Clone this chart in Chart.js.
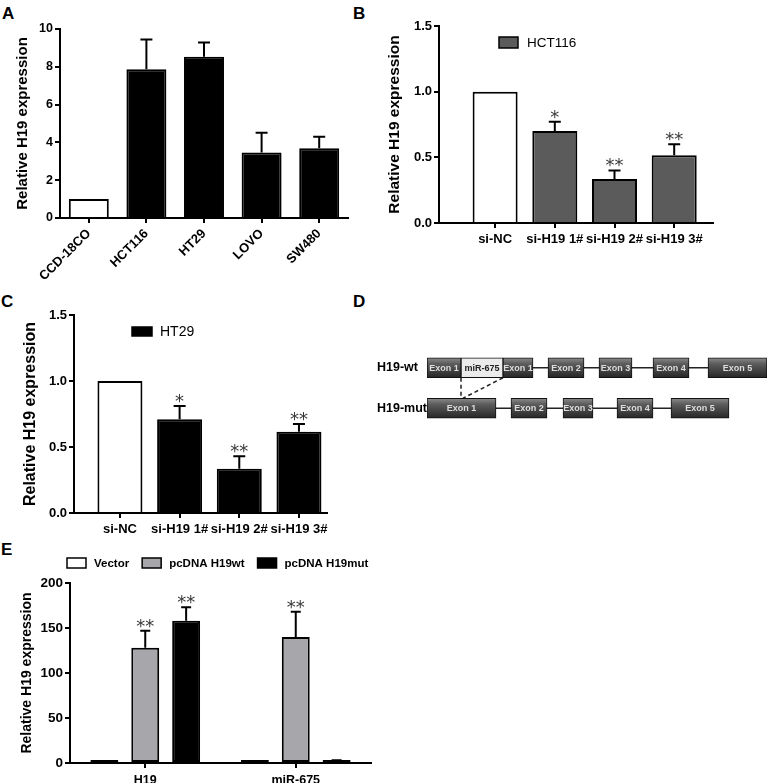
<!DOCTYPE html>
<html>
<head>
<meta charset="utf-8">
<script src="https://cdn.jsdelivr.net/npm/chart.js@4.4.0/dist/chart.umd.min.js"></script>
<style>
    html, body { margin: 0; padding: 0; background: #fff; }
    body { width: 767px; height: 783px; position: relative; overflow: hidden; }
    canvas { position: absolute; }
    .tag { position: absolute; font: bold 17px/17px "Liberation Sans", Arial, sans-serif; color: #000; }
</style>
</head>
<body>
<div class="tag" style="left:2px;top:5px">A</div>
<div class="tag" style="left:353px;top:5px">B</div>
<div class="tag" style="left:1px;top:293px">C</div>
<div class="tag" style="left:353px;top:293px">D</div>
<div class="tag" style="left:1px;top:541px">E</div>

<canvas id="chartA" width="380" height="290" style="left:0;top:0"></canvas>
<canvas id="chartB" width="387" height="290" style="left:380px;top:0"></canvas>
<canvas id="chartC" width="380" height="280" style="left:0;top:280px"></canvas>
<canvas id="chartD" width="390" height="100" style="left:377px;top:340px"></canvas>
<canvas id="chartE" width="380" height="250" style="left:0;top:540px"></canvas>

<script>
// =======================
// Data
// =======================
// A - cell lines
const cellLines = ["CCD-18CO", "HCT116", "HT29", "LOVO", "SW480"];
const cellExpr = [1, 7.87, 8.53, 3.47, 3.69];
const cellErr = [0, 1.58, 0.75, 1.04, 0.61];
const ticksA = [0, 2, 4, 6, 8, 10];

// B / C - siRNA knockdown
const siLabels = ["si-NC", "si-H19 1#", "si-H19 2#", "si-H19 3#"];
const hct116Expr = [1, 0.70, 0.335, 0.515];
const hct116Err = [0, 0.07, 0.065, 0.085];
const hct116Stars = ["", "*", "**", "**"];
const ht29Expr = [1, 0.71, 0.335, 0.615];
const ht29Err = [0, 0.10, 0.095, 0.06];
const ht29Stars = ["", "*", "**", "**"];
const ticksBC = [0, 0.5, 1.0, 1.5];

// D - constructs (diagram units)
const constructs = ["H19-wt", "H19-mut"];
const wtExons = [[0, 34], [34, 76], [76, 106], [121, 157], [172, 205], [226, 262], [281, 340]];
const wtNames = ["Exon 1", "miR-675", "Exon 1", "Exon 2", "Exon 3", "Exon 4", "Exon 5"];
const mutExons = [[0, 69], [84, 120], [136, 166], [190, 226], [244, 302]];
const mutNames = ["Exon 1", "Exon 2", "Exon 3", "Exon 4", "Exon 5"];

// E - overexpression
const targets = ["H19", "miR-675"];
const vectorExpr = [1, 1];
const vectorErr = [0, 0];
const h19wtExpr = [128, 140];
const h19wtErr = [19, 28];
const h19wtStars = ["**", "**"];
const h19mutExpr = [158, 2];
const h19mutErr = [15, 1];
const h19mutStars = ["**", ""];
const ticksE = [0, 50, 100, 150, 200];

// =======================
// Helpers / plugins
// =======================
const FONT = '"Liberation Sans", Arial, sans-serif';
const YTITLE = "Relative H19 expression";

function valueAt(ds, i) {
    const d = ds.data[i];
    return (d !== null && typeof d === "object") ? d.y : d;
}

const errorBars = {
    id: "errorBars",
    afterDatasetsDraw(chart, args, opts) {
        const ctx = chart.ctx;
        const y = chart.scales.y;
        ctx.save();
        ctx.strokeStyle = "#000";
        ctx.lineWidth = 2;
        chart.data.datasets.forEach((ds, di) => {
            if (!ds.errors) return;
            chart.getDatasetMeta(di).data.forEach((bar, i) => {
                const e = ds.errors[i];
                if (!e) return;
                const top = y.getPixelForValue(valueAt(ds, i) + e);
                ctx.beginPath();
                ctx.moveTo(bar.x, bar.y);
                ctx.lineTo(bar.x, top);
                ctx.moveTo(bar.x - opts.cap, top);
                ctx.lineTo(bar.x + opts.cap, top);
                ctx.stroke();
            });
        });
        ctx.restore();
    }
};

// significance asterisks above the error bars
const starMarks = {
    id: "starMarks",
    afterDatasetsDraw(chart, args, opts) {
        const ctx = chart.ctx;
        const y = chart.scales.y;
        ctx.save();
        ctx.font = "18px 'DejaVu Sans', sans-serif";
        ctx.fillStyle = "#3a3a3a";
        ctx.textAlign = "center";
        ctx.textBaseline = "alphabetic";
        chart.data.datasets.forEach((ds, di) => {
            if (!ds.stars) return;
            chart.getDatasetMeta(di).data.forEach((bar, i) => {
                const s = ds.stars[i];
                if (!s) return;
                const e = ds.errors ? ds.errors[i] : 0;
                const top = y.getPixelForValue(valueAt(ds, i) + e);
                ctx.fillText(s, bar.x, top + 1);
            });
        });
        ctx.restore();
    }
};

// small box legend drawn where GraphPad put it
const boxLegend = {
    id: "boxLegend",
    afterDraw(chart, args, opts) {
        const ctx = chart.ctx;
        ctx.save();
        ctx.font = opts.font;
        ctx.textBaseline = "middle";
        let x = opts.x;
        chart.data.datasets.forEach(ds => {
            if (!ds.label) return;
            const fill = ds.legendFill || ds.backgroundColor;
            ctx.fillStyle = fill;
            ctx.fillRect(x, opts.y, opts.boxW, opts.boxH);
            ctx.strokeStyle = "#000";
            ctx.lineWidth = 1.5;
            ctx.strokeRect(x, opts.y, opts.boxW, opts.boxH);
            ctx.fillStyle = "#000";
            const tx = x + opts.boxW + opts.textGap;
            ctx.fillText(ds.label, tx, opts.y + opts.boxH / 2 + 0.5);
            x = tx + ctx.measureText(ds.label).width + opts.itemGap;
        });
        ctx.restore();
    }
};

function yAxis(ticks, width, tickSize, titleSize, titlePad, fmt) {
    return {
        min: ticks[0],
        max: ticks[ticks.length - 1],
        afterBuildTicks: s => { s.ticks = ticks.map(v => ({ value: v })); },
        afterFit: s => { s.width = width; },
        border: { display: true, color: "#000", width: 2 },
        grid: { drawOnChartArea: false, tickLength: 5, color: "#000", lineWidth: 2 },
        ticks: { color: "#000", padding: 2, font: { family: FONT, weight: "bold", size: tickSize }, callback: fmt },
        title: { display: true, text: YTITLE, color: "#000", font: { family: FONT, weight: "bold", size: titleSize }, padding: { top: titlePad, bottom: 0 } }
    };
}

function xCategory(height, size, pad, rot) {
    return {
        afterFit: s => { s.height = height; },
        border: { display: true, color: "#000", width: 2 },
        grid: { drawOnChartArea: false, offset: false, tickLength: 5, color: "#000", lineWidth: 2 },
        ticks: { color: "#000", autoSkip: false, padding: pad, maxRotation: rot, minRotation: rot, font: { family: FONT, weight: "bold", size: size } }
    };
}

function xLinear(labels, range, height, size, pad) {
    return {
        type: "linear",
        min: range[0],
        max: range[1],
        offset: false,
        afterBuildTicks: s => { s.ticks = labels.map((_, i) => ({ value: i })); },
        afterFit: s => { s.height = height; },
        border: { display: true, color: "#000", width: 2 },
        grid: { drawOnChartArea: false, offset: false, tickLength: 5, color: "#000", lineWidth: 2 },
        ticks: { color: "#000", autoSkip: false, padding: pad, maxRotation: 0, font: { family: FONT, weight: "bold", size: size },
                 callback: v => labels[v] }
    };
}

const basePlugins = { legend: { display: false }, tooltip: { enabled: false } };

// =======================
// A
// =======================
new Chart(document.getElementById("chartA"), {
    type: "bar",
    data: {
        labels: cellLines,
        datasets: [{
            data: cellExpr,
            errors: cellErr,
            backgroundColor: cellLines.map((_, i) => i === 0 ? "#fff" : "#000"),
            borderColor: "#000",
            borderWidth: 2,
            categoryPercentage: 1,
            barPercentage: 0.694
        }]
    },
    options: {
        responsive: false,
        animation: false,
        layout: { padding: { left: 0, top: 29, right: 32, bottom: 0 } },
        scales: {
            x: xCategory(72, 13, 3, 45),
            y: yAxis(ticksA, 60, 12.5, 15, 14, v => v)
        },
        plugins: Object.assign({ errorBars: { cap: 6 } }, basePlugins)
    },
    plugins: [errorBars]
});

// =======================
// B and C
// =======================
function knockdownChart(id, label, fill, expr, err, stars, range, area, legend) {
    new Chart(document.getElementById(id), {
        type: "bar",
        data: {
            datasets: [{
                label: label,
                legendFill: fill,
                data: expr.map((v, i) => ({ x: i, y: v })),
                errors: err,
                stars: stars,
                backgroundColor: expr.map((_, i) => i === 0 ? "#fff" : fill),
                borderColor: "#000",
                borderWidth: 2,
                categoryPercentage: 1,
                barPercentage: 0.754
            }]
        },
        options: {
            responsive: false,
            animation: false,
            layout: { padding: { left: 0, top: area.top, right: area.right, bottom: 0 } },
            scales: {
                x: xLinear(siLabels, range, area.xh, 13, area.xpad),
                y: yAxis(ticksBC, area.yw, 13, area.ts, area.tp, v => v.toFixed(1))
            },
            plugins: Object.assign({ errorBars: { cap: 6 }, starMarks: {}, boxLegend: legend }, basePlugins)
        },
        plugins: [errorBars, starMarks, boxLegend]
    });
}

knockdownChart("chartB", "HCT116", "#5b5b5b", hct116Expr, hct116Err, hct116Stars,
    [-0.94, 3.65], { top: 26, right: 54, xh: 67, xpad: 4, yw: 59, ts: 15.5, tp: 5 },
    { x: 119, y: 37, boxW: 19, boxH: 11, textGap: 9, itemGap: 10, font: "13.5px " + FONT });

knockdownChart("chartC", "HT29", "#000", ht29Expr, ht29Err, ht29Stars,
    [-0.77, 3.47], { top: 35, right: 53, xh: 47, xpad: 4, yw: 74, ts: 16, tp: 21 },
    { x: 132, y: 47, boxW: 20, boxH: 9, textGap: 8, itemGap: 10, font: "14px " + FONT });

// =======================
// D - gene structure
// =======================
const rowNames = [wtNames, mutNames];
const mirSpan = wtExons[wtNames.indexOf("miR-675")];

function exonFill(c) {
    if (c.type !== "data") return "#4b4b4b";
    if (rowNames[c.dataIndex][c.datasetIndex] === "miR-675") return "#ebebeb";
    const y = c.chart.scales.y;
    const mid = y ? y.getPixelForValue(c.dataIndex) : NaN;
    if (!isFinite(mid)) return "#4b4b4b";
    const g = c.chart.ctx.createLinearGradient(0, mid - 10, 0, mid + 10);
    g.addColorStop(0, "#8c8c8c");
    g.addColorStop(0.3, "#5c5c5c");
    g.addColorStop(1, "#262626");
    return g;
}

const introns = {
    id: "introns",
    beforeDatasetsDraw(chart) {
        const { ctx, scales: { x, y } } = chart;
        ctx.save();
        ctx.strokeStyle = "#222";
        ctx.lineWidth = 1.5;
        [wtExons, mutExons].forEach((row, r) => {
            const yc = y.getPixelForValue(r);
            ctx.beginPath();
            ctx.moveTo(x.getPixelForValue(row[0][0]), yc);
            ctx.lineTo(x.getPixelForValue(row[row.length - 1][1]), yc);
            ctx.stroke();
        });
        // deleted miR-675 region
        const y0 = y.getPixelForValue(0) + 10;
        const y1 = y.getPixelForValue(1) - 10;
        ctx.setLineDash([4, 3]);
        ctx.beginPath();
        ctx.moveTo(x.getPixelForValue(mirSpan[0]), y0);
        ctx.lineTo(x.getPixelForValue(mirSpan[0]), y1);
        ctx.moveTo(x.getPixelForValue(mirSpan[1]), y0);
        ctx.lineTo(x.getPixelForValue(mirSpan[0]) + 2, y1);
        ctx.stroke();
        ctx.restore();
    },
    afterDatasetsDraw(chart) {
        const ctx = chart.ctx;
        ctx.save();
        ctx.font = "bold 9px " + FONT;
        ctx.textAlign = "center";
        ctx.textBaseline = "middle";
        chart.data.datasets.forEach((ds, di) => {
            chart.getDatasetMeta(di).data.forEach((bar, i) => {
                const name = rowNames[i][di];
                if (!name || !ds.data[i]) return;
                ctx.fillStyle = name === "miR-675" ? "#222" : "#dedede";
                ctx.fillText(name, (bar.x + bar.base) / 2, bar.y + 0.5);
            });
        });
        ctx.restore();
    }
};

new Chart(document.getElementById("chartD"), {
    type: "bar",
    data: {
        labels: constructs,
        datasets: wtNames.map((_, k) => ({
            data: [wtExons[k] || null, mutExons[k] || null],
            backgroundColor: exonFill,
            borderColor: "#111",
            borderWidth: 1,
            borderSkipped: false,
            barThickness: 20,
            grouped: false
        }))
    },
    options: {
        indexAxis: "y",
        responsive: false,
        animation: false,
        layout: { padding: { left: 0, top: 6.5, right: 0, bottom: 11.5 } },
        scales: {
            x: { display: false, min: 0, max: 340 },
            y: {
                afterFit: s => { s.width = 50; },
                border: { display: false },
                grid: { display: false },
                ticks: { color: "#000", crossAlign: "far", padding: 0, font: { family: FONT, weight: "bold", size: 12.5 } }
            }
        },
        plugins: basePlugins
    },
    plugins: [introns]
});

// =======================
// E
// =======================
new Chart(document.getElementById("chartE"), {
    type: "bar",
    data: {
        labels: targets,
        datasets: [
            { label: "Vector", data: vectorExpr, errors: vectorErr, backgroundColor: "#fff" },
            { label: "pcDNA H19wt", data: h19wtExpr, errors: h19wtErr, stars: h19wtStars, backgroundColor: "#a7a7ab" },
            { label: "pcDNA H19mut", data: h19mutExpr, errors: h19mutErr, stars: h19mutStars, backgroundColor: "#000" }
        ].map(d => Object.assign(d, {
            borderColor: "#000", borderWidth: 2, borderSkipped: false, minBarLength: 3,
            categoryPercentage: 0.815, barPercentage: 0.683
        }))
    },
    options: {
        responsive: false,
        animation: false,
        layout: { padding: { left: 0, top: 43, right: 9, bottom: 0 } },
        scales: {
            x: xCategory(27, 12.5, 5, 0),
            y: yAxis(ticksE, 70, 13.5, 14, 19, v => v)
        },
        plugins: Object.assign({
            errorBars: { cap: 5 },
            starMarks: {},
            boxLegend: { x: 67, y: 18, boxW: 19, boxH: 10, textGap: 8, itemGap: 13, font: "bold 11.5px " + FONT }
        }, basePlugins)
    },
    plugins: [errorBars, starMarks, boxLegend]
});
</script>
</body>
</html>
